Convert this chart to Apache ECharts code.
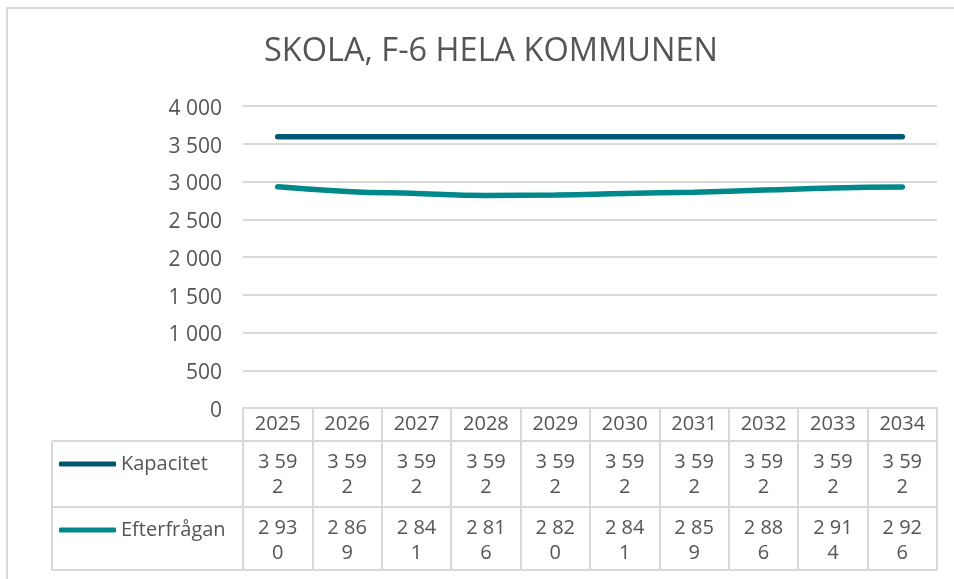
<!DOCTYPE html>
<html><head><meta charset="utf-8">
<script src="https://cdn.jsdelivr.net/npm/echarts@6/dist/echarts.min.js"></script>
<style>html,body{margin:0;padding:0;background:#fff}#c{width:954px;height:579px}</style>
</head><body><div id="c"></div>
<script>
const years = ['2025','2026','2027','2028','2029','2030','2031','2032','2033','2034'];
const kapacitet = [3592,3592,3592,3592,3592,3592,3592,3592,3592,3592];
const efterfragan = [2930,2869,2841,2816,2820,2841,2859,2886,2914,2926];
const yTicks = {min:0, max:4000, interval:500};
const seriesNames = ['Kapacitet','Efterfrågan'];
const titleText = 'SKOLA, F-6 HELA KOMMUNEN';

const FONT = 'Open Sans';
const C1 = '#005876', C2 = '#00888a', GRID = '#d9d9d9', TXT = '#555555';
const gl = 243, gr = 937, gt = 106, gb = 408;
const rowH = [33, 66, 63];
const tableLeft = 52;

function fmt(v){ return String(v).replace(/\B(?=(\d{3})+(?!\d))/g,' '); }
function cellFmt(v){ const s = fmt(v); return s.slice(0,4) + '\n' + s.slice(4); }

const chart = echarts.init(document.getElementById('c'));
const y1 = gb + rowH[0], y2 = y1 + rowH[1], y3 = y2 + rowH[2];
const baseX = {type:'category', data:years, boundaryGap:true, position:'bottom', gridIndex:0};
chart.setOption({
  animation:false,
  title:{text:titleText, left:259, top:30, textStyle:{fontFamily:FONT, fontSize:32.5, fontWeight:'normal', color:TXT}},
  legend:[
    {data:[seriesNames[0]], left:54, top:y1+8, icon:'roundRect', itemWidth:57, itemHeight:5, itemGap:5,
     textStyle:{fontFamily:FONT, fontSize:20, color:TXT}, selectedMode:false},
    {data:[seriesNames[1]], left:54, top:y2+8, icon:'roundRect', itemWidth:57, itemHeight:5, itemGap:5,
     textStyle:{fontFamily:FONT, fontSize:20, color:TXT}, selectedMode:false}
  ],
  grid:{left:gl, right:954-gr, top:gt, bottom:579-gb, containLabel:false},
  xAxis:[
    Object.assign({}, baseX, {
      axisLine:{show:true, lineStyle:{color:GRID, width:2}},
      axisTick:{show:true, interval:0, length:y3-gb, lineStyle:{color:GRID, width:2}},
      axisLabel:{interval:0, margin:6, fontFamily:FONT, fontSize:20, color:TXT}
    }),
    Object.assign({}, baseX, {offset:rowH[0],
      axisLine:{show:true, lineStyle:{color:GRID, width:2}}, axisTick:{show:false},
      axisLabel:{interval:0, margin:9, fontFamily:FONT, fontSize:20, color:TXT, lineHeight:25, align:'center',
        formatter:(v,i)=>cellFmt(kapacitet[i])}
    }),
    Object.assign({}, baseX, {offset:rowH[0]+rowH[1],
      axisLine:{show:true, lineStyle:{color:GRID, width:2}}, axisTick:{show:false},
      axisLabel:{interval:0, margin:9, fontFamily:FONT, fontSize:20, color:TXT, lineHeight:25, align:'center',
        formatter:(v,i)=>cellFmt(efterfragan[i])}
    }),
    Object.assign({}, baseX, {offset:rowH[0]+rowH[1]+rowH[2],
      axisLine:{show:true, lineStyle:{color:GRID, width:2}}, axisTick:{show:false}, axisLabel:{show:false}
    })
  ],
  yAxis:{type:'value', min:yTicks.min, max:yTicks.max, interval:yTicks.interval,
    axisLine:{show:false}, axisTick:{show:false},
    axisLabel:{margin:21, fontFamily:FONT, fontSize:21, color:TXT, formatter:v=>'{a|' + fmt(v) + '}',
      rich:{a:{fontFamily:FONT, fontSize:21, color:TXT, padding:[6,0,0,0]}}},
    splitLine:{lineStyle:{color:GRID, width:2}}},
  graphic:[
    {type:'rect', shape:{x:7, y:8, width:1000, height:700}, style:{fill:'none', stroke:GRID, lineWidth:2}, silent:true},
    {type:'line', shape:{x1:tableLeft, y1:y1, x2:gl, y2:y1}, style:{stroke:GRID, lineWidth:2}},
    {type:'line', shape:{x1:tableLeft, y1:y2, x2:gl, y2:y2}, style:{stroke:GRID, lineWidth:2}},
    {type:'line', shape:{x1:tableLeft, y1:y3, x2:gl, y2:y3}, style:{stroke:GRID, lineWidth:2}},
    {type:'line', shape:{x1:tableLeft, y1:y1, x2:tableLeft, y2:y3}, style:{stroke:GRID, lineWidth:2}}
  ],
  series:[
    {name:seriesNames[0], type:'line', data:kapacitet, smooth:true, showSymbol:false, color:C1,
     lineStyle:{width:5.5, color:C1, cap:'round'}},
    {name:seriesNames[1], type:'line', data:efterfragan, smooth:true, showSymbol:false, color:C2,
     lineStyle:{width:5.5, color:C2, cap:'round'}}
  ]
});
</script></body></html>
